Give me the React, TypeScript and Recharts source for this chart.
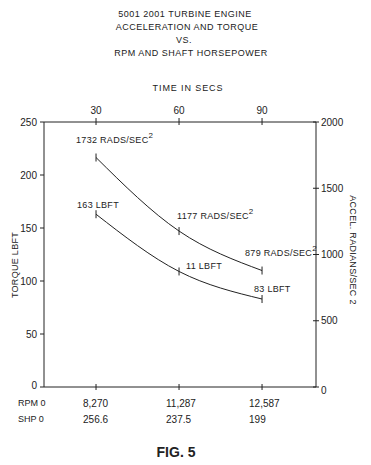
import React from 'react';
import { ComposedChart, Line, XAxis, YAxis } from 'recharts';

const timeSecs = [30, 60, 90];
const torqueLbft = [163, 109, 83];
const accelRads = [1732, 1177, 879];
const rpmLabels = ['8,270', '11,287', '12,587'];
const shpLabels = ['256.6', '237.5', '199'];
const torqueText = ['163 LBFT', '11 LBFT', '83 LBFT'];
const accelText = ['1732 RADS/SEC', '1177 RADS/SEC', '879 RADS/SEC'];
const torqueTicks = [0, 50, 100, 150, 200, 250];
const accelTicks = [0, 500, 1000, 1500, 2000];
const titleLines = ['5001 2001 TURBINE ENGINE', 'ACCELERATION AND TORQUE', 'VS.', 'RPM AND SHAFT HORSEPOWER'];

const data = timeSecs.map((t, i) => ({ t, torque: torqueLbft[i], accel: accelRads[i] }));

const FONT = '"Liberation Sans", Arial, sans-serif';
const INK = '#222';

const txt = { fontFamily: FONT, fill: INK } as const;

function TopTick(p: any) {
  const { x, y, payload } = p;
  return (
    <g>
      <line x1={x} x2={x} y1={y - 4} y2={y + 3} stroke={INK} strokeWidth={1} />
      <text x={x} y={y - 12} textAnchor="middle" dy="0.35em" fontSize={10} {...txt}>{payload.value}</text>
    </g>
  );
}

function BottomTick(p: any) {
  const { x, y, payload } = p;
  const i = timeSecs.indexOf(payload.value);
  return (
    <g>
      <line x1={x} x2={x} y1={y - 3} y2={y + 3} stroke={INK} strokeWidth={1} />
      <text x={x - 13} y={y + 16} dy="0.35em" fontSize={10} {...txt}>{rpmLabels[i]}</text>
      <text x={x - 13} y={y + 32} dy="0.35em" fontSize={10} {...txt}>{shpLabels[i]}</text>
    </g>
  );
}

function LeftTick(p: any) {
  const { x, y, payload } = p;
  return (
    <g>
      <line x1={x - 4} x2={x} y1={y} y2={y} stroke={INK} strokeWidth={1} />
      <text x={x - 7} y={payload.value === 0 ? y - 2 : y} textAnchor="end" dy="0.35em" fontSize={10} {...txt}>{payload.value}</text>
    </g>
  );
}

function RightTick(p: any) {
  const { x, y, payload } = p;
  return (
    <g>
      <line x1={x - 3} x2={x + 3} y1={y} y2={y} stroke={INK} strokeWidth={1} />
      <text x={x + 5} y={payload.value === 0 ? y + 3 : y} textAnchor="start" dy="0.35em" fontSize={10} {...txt}>{payload.value}</text>
    </g>
  );
}

function TickDot(p: any) {
  const { cx, cy, index } = p;
  if (cx == null || cy == null) return <g key={`d${index}`} />;
  return <line key={`d${index}`} x1={cx} x2={cx} y1={cy - 4} y2={cy + 4} stroke={INK} strokeWidth={1} />;
}

const accelOffsets = [
  { dx: -20, dy: -18 },
  { dx: -2, dy: -15 },
  { dx: -17, dy: -18 },
];
const torqueOffsets = [
  { dx: -19, dy: -9 },
  { dx: 7, dy: -6 },
  { dx: -8, dy: -10 },
];

function AccelLabel(p: any) {
  const { x, y, value } = p;
  const i = p.index != null ? p.index : accelRads.indexOf(value);
  const o = accelOffsets[i];
  return (
    <text x={x + o.dx} y={y + o.dy} dy="0.35em" fontSize={9} letterSpacing={0.3} {...txt}>
      {accelText[i]}
      <tspan dy={-5} fontSize={8}>2</tspan>
    </text>
  );
}

function TorqueLabel(p: any) {
  const { x, y, value } = p;
  const i = p.index != null ? p.index : torqueLbft.indexOf(value);
  const o = torqueOffsets[i];
  return (
    <text x={x + o.dx} y={y + o.dy} dy="0.35em" fontSize={9} letterSpacing={0.3} {...txt}>
      {torqueText[i]}
    </text>
  );
}

const titleX = [185, 187, 184, 191];
const titleY = [14, 27, 40, 53];

export default function App() {
  return (
    <div style={{ position: 'absolute', left: 0, top: 0, background: '#fff' }}>
      <ComposedChart width={371} height={465} data={data} margin={{ top: 102, right: 25, bottom: 38, left: 14 }}>
        <XAxis xAxisId="top" orientation="top" dataKey="t" type="number" domain={[11.2, 109.5]} ticks={timeSecs}
          height={20} tickSize={0} tickMargin={0} tick={(p: any) => <TopTick {...p} />} stroke={INK} allowDataOverflow />
        <XAxis xAxisId="bottom" orientation="bottom" dataKey="t" type="number" domain={[11.2, 109.5]} ticks={timeSecs}
          height={40} tickSize={0} tickMargin={0} tick={(p: any) => <BottomTick {...p} />} stroke={INK} allowDataOverflow />
        <YAxis yAxisId="torque" orientation="left" domain={[0, 250]} ticks={torqueTicks} width={30}
          tickSize={0} tickMargin={0} tick={(p: any) => <LeftTick {...p} />} stroke={INK} />
        <YAxis yAxisId="accel" orientation="right" domain={[0, 2000]} ticks={accelTicks} width={30}
          tickSize={0} tickMargin={0} tick={(p: any) => <RightTick {...p} />} stroke={INK} />
        <Line xAxisId="bottom" yAxisId="accel" dataKey="accel" type="monotone" stroke={INK} strokeWidth={1}
          dot={(p: any) => <TickDot key={`a${p.index}`} {...p} />} label={(p: any) => <AccelLabel key={`al${p.index}`} {...p} />}
          isAnimationActive={false} />
        <Line xAxisId="bottom" yAxisId="torque" dataKey="torque" type="monotone" stroke={INK} strokeWidth={1}
          dot={(p: any) => <TickDot key={`t${p.index}`} {...p} />} label={(p: any) => <TorqueLabel key={`tl${p.index}`} {...p} />}
          isAnimationActive={false} />
        {titleLines.map((s, i) => (
          <text key={s} x={titleX[i]} y={titleY[i]} textAnchor="middle" dy="0.35em" fontSize={9} letterSpacing={0.5} {...txt}>{s}</text>
        ))}
        <text x={188} y={88} textAnchor="middle" dy="0.35em" fontSize={9} letterSpacing={0.9} {...txt}>TIME IN SECS</text>
        <text x={15} y={265} textAnchor="middle" dy="0.35em" fontSize={9} letterSpacing={0.3} transform="rotate(-90 15 265)" {...txt}>TORQUE LBFT</text>
        <text x={353} y={250} textAnchor="middle" dy="0.35em" fontSize={9} letterSpacing={0.3} transform="rotate(90 353 250)" {...txt}>ACCEL. RADIANS/SEC 2</text>
        <text x={18} y={403} dy="0.35em" fontSize={9} {...txt}>RPM 0</text>
        <text x={18} y={419} dy="0.35em" fontSize={9} {...txt}>SHP 0</text>
        <text x={176} y={452} textAnchor="middle" dy="0.35em" fontSize={14} fontWeight="bold" {...txt}>FIG. 5</text>
      </ComposedChart>
    </div>
  );
}
